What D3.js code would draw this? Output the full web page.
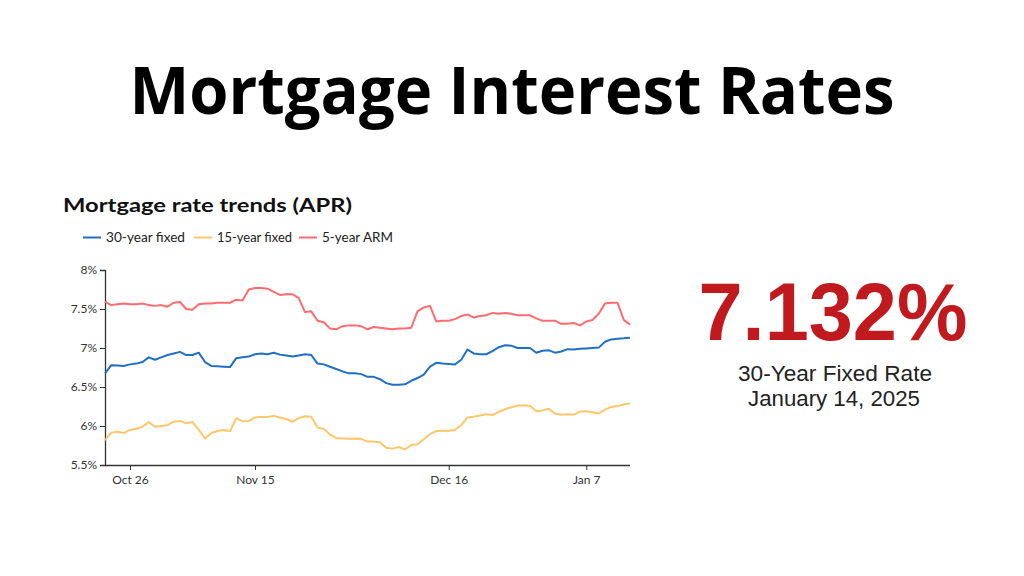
<!DOCTYPE html>
<html>
<head>
<meta charset="utf-8">
<script src="https://cdn.jsdelivr.net/npm/d3@7"></script>
<style>
  html, body { margin: 0; padding: 0; background: #fff; }
  svg { display: block; }
</style>
</head>
<body>
<svg id="chart" width="1024" height="576"></svg>
<script>
// ---- data ----
const startDate = "2024-10-22";
const endDate = "2025-01-14";
const seriesNames = ["30-year fixed", "15-year fixed", "5-year ARM"];
const seriesColors = ["#1f6fc6", "#ffc66b", "#ff6b6e"];

const fixed30 = [6.675,6.78,6.775,6.77,6.79,6.80,6.82,6.88,6.85,6.88,6.91,6.93,6.95,6.91,6.91,6.94,6.82,6.77,6.765,6.76,6.755,6.87,6.88,6.89,6.92,6.93,6.92,6.94,6.915,6.905,6.89,6.905,6.92,6.91,6.80,6.79,6.76,6.73,6.70,6.675,6.675,6.665,6.63,6.63,6.60,6.55,6.53,6.53,6.535,6.58,6.615,6.66,6.76,6.81,6.80,6.795,6.79,6.85,6.98,6.93,6.92,6.92,6.96,7.01,7.035,7.03,7.00,7.00,7.00,6.94,6.965,6.97,6.94,6.955,6.985,6.98,6.99,6.995,7.00,7.005,7.08,7.11,7.12,7.125,7.132];
const fixed15 = [5.82,5.915,5.925,5.91,5.95,5.965,5.99,6.05,5.99,6.00,6.01,6.055,6.065,6.035,6.05,5.95,5.84,5.91,5.935,5.95,5.935,6.10,6.06,6.065,6.11,6.115,6.115,6.13,6.11,6.09,6.055,6.10,6.125,6.12,5.98,5.96,5.89,5.845,5.84,5.835,5.84,5.835,5.80,5.80,5.79,5.72,5.71,5.73,5.70,5.755,5.765,5.83,5.895,5.935,5.94,5.94,5.95,6.01,6.11,6.12,6.135,6.15,6.14,6.18,6.215,6.24,6.26,6.265,6.26,6.19,6.20,6.22,6.16,6.145,6.15,6.145,6.185,6.19,6.175,6.16,6.21,6.245,6.255,6.275,6.29];
const arm5 = [7.59,7.55,7.56,7.57,7.56,7.56,7.57,7.55,7.54,7.55,7.53,7.58,7.59,7.50,7.49,7.56,7.57,7.57,7.58,7.58,7.58,7.62,7.61,7.75,7.77,7.77,7.76,7.72,7.68,7.69,7.69,7.64,7.46,7.47,7.35,7.33,7.25,7.24,7.28,7.29,7.29,7.28,7.24,7.27,7.26,7.25,7.24,7.25,7.25,7.26,7.47,7.52,7.54,7.34,7.35,7.35,7.37,7.41,7.43,7.39,7.41,7.42,7.45,7.44,7.45,7.44,7.42,7.42,7.42,7.38,7.35,7.35,7.35,7.31,7.31,7.32,7.29,7.34,7.36,7.44,7.57,7.58,7.58,7.36,7.30];

const yTicks = [5.5, 6, 6.5, 7, 7.5, 8];
const yTickLabels = ["5.5%", "6%", "6.5%", "7%", "7.5%", "8%"];
const xTickDates = ["2024-10-26", "2024-11-15", "2024-12-16", "2025-01-07"];
const xTickLabels = ["Oct 26", "Nov 15", "Dec 16", "Jan 7"];

const pageTitle = "Mortgage Interest Rates";
const chartTitle = "Mortgage rate trends (APR)";
const bigValue = "7.132%";
const bigLabel1 = "30-Year Fixed Rate";
const bigLabel2 = "January 14, 2025";

// ---- drawing ----
const parse = d3.utcParse("%Y-%m-%d");
const dates = d3.utcDay.range(parse(startDate), d3.utcDay.offset(parse(endDate), 1));
const allSeries = [fixed30, fixed15, arm5];

const svg = d3.select("#chart");

svg.append("text")
  .attr("x", 512).attr("y", 114)
  .attr("text-anchor", "middle")
  .attr("font-family", "'Open Sans', sans-serif")
  .attr("font-weight", 700)
  .attr("font-size", 67)
  .attr("textLength", 765)
  .attr("lengthAdjust", "spacingAndGlyphs")
  .attr("fill", "#000")
  .text(pageTitle);

const x = d3.scaleUtc().domain([parse(startDate), parse(endDate)]).range([105, 630]);
const y = d3.scaleLinear().domain([5.5, 8]).range([465, 270]);

svg.append("text")
  .attr("x", 63).attr("y", 211.5)
  .attr("font-family", "Lato, sans-serif")
  .attr("font-weight", 700)
  .attr("font-size", 19.5)
  .attr("textLength", 289)
  .attr("lengthAdjust", "spacingAndGlyphs")
  .attr("fill", "#111")
  .text(chartTitle);

// legend
const legendX = [83, 194, 299];
const legendLen = [79, 75, 71];
const legend = svg.append("g").attr("font-family", "Lato, sans-serif").attr("font-size", 12.5).attr("fill", "#222");
seriesNames.forEach((name, i) => {
  legend.append("line")
    .attr("x1", legendX[i]).attr("x2", legendX[i] + 18)
    .attr("y1", 237.5).attr("y2", 237.5)
    .attr("stroke", seriesColors[i]).attr("stroke-width", 2);
  legend.append("text")
    .attr("x", legendX[i] + 23).attr("y", 241.8)
    .attr("textLength", legendLen[i])
    .attr("lengthAdjust", "spacingAndGlyphs")
    .text(name);
});

// axes
const yAxis = d3.axisLeft(y).tickValues(yTicks).tickSize(5).tickPadding(3)
  .tickFormat((d, i) => yTickLabels[i]);
const gy = svg.append("g").attr("transform", "translate(105,0)").call(yAxis);
gy.select(".domain").attr("stroke", "#333").attr("stroke-width", 1.3);
gy.selectAll(".tick line").attr("stroke", "#333");
gy.selectAll(".tick text").attr("font-family", "Lato, sans-serif").attr("font-size", 12).attr("fill", "#333");

const xAxis = d3.axisBottom(x).tickValues(xTickDates.map(parse)).tickSize(5).tickPadding(5)
  .tickFormat((d, i) => xTickLabels[i]);
const gx = svg.append("g").attr("transform", "translate(0,465)").call(xAxis);
gx.select(".domain").attr("stroke", "#333").attr("stroke-width", 1.3).attr("d", "M105,0.5H630");
gx.selectAll(".tick line").attr("stroke", "#333");
gx.selectAll(".tick text").attr("font-family", "Lato, sans-serif").attr("font-size", 12).attr("fill", "#333");

// lines
const line = d3.line().x((d, i) => x(dates[i])).y(d => y(d));
[2, 0, 1].forEach(i => {
  svg.append("path")
    .datum(allSeries[i])
    .attr("d", line)
    .attr("fill", "none")
    .attr("stroke", seriesColors[i])
    .attr("stroke-width", 2)
    .attr("stroke-linejoin", "round");
});

// big number
svg.append("text")
  .attr("x", 833).attr("y", 340)
  .attr("text-anchor", "middle")
  .attr("font-family", "'Liberation Sans', Arial, sans-serif")
  .attr("font-weight", 700)
  .attr("font-size", 82)
  .attr("textLength", 269)
  .attr("lengthAdjust", "spacingAndGlyphs")
  .attr("fill", "#c0191e")
  .text(bigValue);

svg.append("text")
  .attr("x", 835).attr("y", 380.5)
  .attr("text-anchor", "middle")
  .attr("font-family", "'Liberation Sans', Arial, sans-serif")
  .attr("font-size", 21.5)
  .attr("textLength", 194)
  .attr("lengthAdjust", "spacingAndGlyphs")
  .attr("fill", "#222")
  .text(bigLabel1);

svg.append("text")
  .attr("x", 834).attr("y", 406)
  .attr("text-anchor", "middle")
  .attr("font-family", "'Liberation Sans', Arial, sans-serif")
  .attr("font-size", 21.5)
  .attr("textLength", 172)
  .attr("lengthAdjust", "spacingAndGlyphs")
  .attr("fill", "#222")
  .text(bigLabel2);
</script>
</body>
</html>
